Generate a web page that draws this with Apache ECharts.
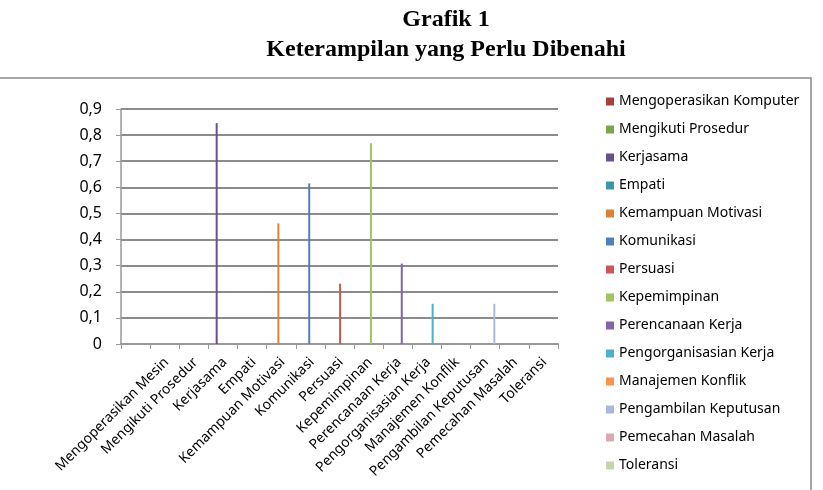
<!DOCTYPE html>
<html>
<head>
<meta charset="utf-8">
<script src="https://cdn.jsdelivr.net/npm/echarts@6/dist/echarts.min.js"></script>
<style>
  html, body { margin: 0; padding: 0; background: #fff; }
  #chart { width: 823px; height: 490px; }
</style>
</head>
<body>
<div id="chart"></div>
<script>
// kategori pada sumbu x
var categories = ['Mengoperasikan Mesin', 'Mengikuti Prosedur', 'Kerjasama', 'Empati',
  'Kemampuan Motivasi', 'Komunikasi', 'Persuasi', 'Kepemimpinan', 'Perencanaan Kerja',
  'Pengorganisasian Kerja', 'Manajemen Konflik', 'Pengambilan Keputusan',
  'Pemecahan Masalah', 'Toleransi'];
// nama seri seperti di legenda
var seriesNames = ['Mengoperasikan Komputer', 'Mengikuti Prosedur', 'Kerjasama', 'Empati',
  'Kemampuan Motivasi', 'Komunikasi', 'Persuasi', 'Kepemimpinan', 'Perencanaan Kerja',
  'Pengorganisasian Kerja', 'Manajemen Konflik', 'Pengambilan Keputusan',
  'Pemecahan Masalah', 'Toleransi'];
// nilai tiap keterampilan (seri ke-i hanya punya nilai di kategori ke-i)
var values = [0, 0, 0.846, 0, 0.462, 0.615, 0.231, 0.769, 0.308, 0.154, 0, 0.154, 0, 0];
var colors = ['#A5403F', '#7FA34A', '#6A4F8C', '#3A97A8', '#D9833A', '#4F7FC1', '#CD5653',
  '#A2C35F', '#8066A5', '#4BB0CA', '#F7964A', '#A9B9D6', '#DBA9B4', '#C6D5AE'];

var chart = echarts.init(document.getElementById('chart'));

var series = seriesNames.map(function (name, i) {
  return {
    name: name,
    type: 'bar',
    xAxisIndex: 1,
    yAxisIndex: 1,
    barWidth: 2,
    barGap: '-11%',
    itemStyle: { color: colors[i] },
    data: categories.map(function (c, j) { return j === i ? values[i] : '-'; })
  };
});

var titleStyle = { fontFamily: 'Liberation Serif', fontWeight: 'bold', fontSize: 24, color: '#000' };

chart.setOption({
  animation: false,
  title: [
    { text: 'Grafik 1', left: 441, top: 3, textAlign: 'center', textStyle: titleStyle },
    { text: 'Keterampilan yang Perlu Dibenahi', left: 441, top: 33, textAlign: 'center', textStyle: titleStyle }
  ],
  graphic: [{
    type: 'rect',
    shape: { x: -2, y: 78, width: 813, height: 430 },
    style: { fill: null, stroke: '#8a8a8a', lineWidth: 1.5 },
    silent: true
  }],
  legend: {
    orient: 'vertical',
    left: 601,
    top: 89,
    icon: 'rect',
    itemWidth: 8,
    itemHeight: 8,
    itemGap: 13,
    textStyle: { fontFamily: 'Noto Sans', fontSize: 14, color: '#000', lineHeight: 15 },
    data: seriesNames
  },
  grid: [
    { left: 121, top: 109, width: 437, height: 235 },
    { left: 152, top: 109, width: 407, height: 235 }
  ],
  xAxis: [
    {
      type: 'value', gridIndex: 0, min: 0, max: 15, interval: 1,
      axisLine: { lineStyle: { color: '#999', width: 2 } },
      axisTick: { show: true, length: 5, lineStyle: { color: '#999' } },
      axisLabel: { show: false },
      splitLine: { show: false }
    },
    {
      type: 'category', gridIndex: 1, data: categories,
      axisLine: { show: false },
      axisTick: { show: false },
      axisLabel: {
        interval: 0, rotate: 45, margin: 16,
        fontFamily: 'Noto Sans', fontSize: 14, color: '#000'
      }
    }
  ],
  yAxis: [
    {
      type: 'value', gridIndex: 0, min: 0, max: 0.9, interval: 0.1,
      axisLine: { show: true, lineStyle: { color: '#999', width: 1.5 } },
      axisTick: { show: true, length: 5, lineStyle: { color: '#999' } },
      axisLabel: {
        margin: 19, fontFamily: 'Noto Sans', fontSize: 16, color: '#000',
        formatter: function (v) { return v === 0 ? '0' : v.toFixed(1).replace('.', ','); }
      },
      splitLine: { lineStyle: { color: '#8c8c8c', width: 2 } }
    },
    {
      type: 'value', gridIndex: 1, min: 0, max: 0.9, show: false
    }
  ],
  series: series
});
</script>
</body>
</html>
